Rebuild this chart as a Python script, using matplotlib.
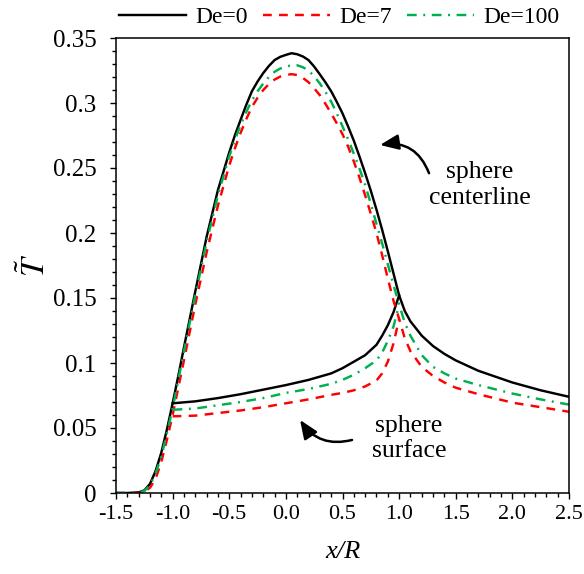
import matplotlib
matplotlib.use("Agg")
import matplotlib.pyplot as plt
from matplotlib.ticker import MultipleLocator, FuncFormatter
from matplotlib.patches import ArrowStyle

plt.rcParams['font.family'] = ['Liberation Serif', 'DejaVu Serif']
plt.rcParams['mathtext.fontset'] = 'stix'
plt.rcParams['axes.unicode_minus'] = False

# ---------------- data ----------------
labels = ["De=0", "De=7", "De=100"]
colors = ["#000000", "#FF0000", "#00B050"]

# centerline curves (x/R from -1.5 to 2.5)
x_c = [-1.5, -1.4, -1.3, -1.25, -1.2, -1.15, -1.1, -1.05, -1.0, -0.95, -0.9,
       -0.8, -0.7, -0.6, -0.5, -0.45, -0.4, -0.35, -0.3, -0.25, -0.2, -0.15, -0.1, -0.05,
       0.0, 0.05, 0.1, 0.15, 0.2, 0.25, 0.3, 0.35, 0.4, 0.45, 0.5, 0.55, 0.6, 0.65,
       0.7, 0.75, 0.8, 0.85, 0.9, 0.95, 1.0, 1.05, 1.1, 1.2, 1.3, 1.4,
       1.5, 1.7, 2.0, 2.25, 2.5]
T_c_de0 = [0.0, 0.0, 0.0005, 0.002, 0.007, 0.017, 0.031, 0.049, 0.069, 0.090, 0.112,
           0.155, 0.197, 0.233, 0.262, 0.2752, 0.287, 0.2985, 0.309, 0.3165, 0.323, 0.3285, 0.333, 0.3355,
           0.337, 0.3383, 0.3375, 0.3358, 0.333, 0.328, 0.322, 0.3158, 0.309, 0.3008, 0.292, 0.2818, 0.271, 0.2588,
           0.246, 0.2325, 0.218, 0.2025, 0.186, 0.169, 0.152, 0.140, 0.132, 0.121, 0.113, 0.107,
           0.102, 0.094, 0.085, 0.079, 0.074]
T_c_de7 = [0.0, 0.0, 0.0, 0.001, 0.004, 0.011, 0.024, 0.041, 0.060, 0.081, 0.102,
           0.145, 0.185, 0.221, 0.252, 0.2652, 0.277, 0.2875, 0.297, 0.304, 0.310, 0.3145, 0.318, 0.3203,
           0.3215, 0.3222, 0.3215, 0.3193, 0.316, 0.3113, 0.306, 0.2993, 0.292, 0.2843, 0.276, 0.2663, 0.255, 0.2425,
           0.229, 0.2148, 0.200, 0.183, 0.165, 0.148, 0.134, 0.119, 0.109, 0.097, 0.090, 0.085,
           0.081, 0.076, 0.0695, 0.066, 0.0625]
T_c_de100 = [0.0, 0.0, 0.0003, 0.0015, 0.006, 0.015, 0.028, 0.046, 0.065, 0.087, 0.109,
             0.152, 0.193, 0.229, 0.259, 0.2715, 0.283, 0.293, 0.302, 0.309, 0.315, 0.320, 0.324, 0.3265,
             0.328, 0.329, 0.329, 0.3275, 0.325, 0.3205, 0.315, 0.3085, 0.301, 0.292, 0.282, 0.272, 0.261, 0.2495,
             0.237, 0.2225, 0.207, 0.192, 0.176, 0.160, 0.145, 0.131, 0.121, 0.106, 0.097, 0.092,
             0.088, 0.083, 0.0765, 0.072, 0.068]

# sphere surface curves (x/R from -1 to 1)
x_s = [-1.0, -0.8, -0.6, -0.4, -0.2, 0.0, 0.2, 0.4, 0.5, 0.6, 0.7, 0.8, 0.85, 0.9, 0.95, 1.0]
T_s_de0 = [0.069, 0.0705, 0.073, 0.076, 0.0795, 0.083, 0.087, 0.092, 0.096, 0.101, 0.106,
           0.114, 0.121, 0.129, 0.139, 0.152]
T_s_de7 = [0.059, 0.0595, 0.0615, 0.0635, 0.066, 0.069, 0.072, 0.0755, 0.077, 0.079, 0.082,
           0.0865, 0.092, 0.101, 0.115, 0.134]
T_s_de100 = [0.064, 0.065, 0.0675, 0.070, 0.073, 0.077, 0.080, 0.084, 0.087, 0.091, 0.096,
             0.102, 0.108, 0.117, 0.128, 0.145]

x_ticks = [-1.5, -1.0, -0.5, 0.0, 0.5, 1.0, 1.5, 2.0, 2.5]
y_ticks = [0, 0.05, 0.1, 0.15, 0.2, 0.25, 0.3, 0.35]

# ---------------- figure ----------------
fig = plt.figure(figsize=(5.84, 5.74), dpi=100)
ax = fig.add_axes([116/584, 1-493/574, 453/584, 455/574])

styles = ['-', (0, (3.6, 3.0)), (0, (4.0, 2.7, 0.8, 2.7))]
centers = [T_c_de0, T_c_de7, T_c_de100]
surfaces = [T_s_de0, T_s_de7, T_s_de100]
lw = 1.75
handles = []
for lab, col, ls, tc, ts in zip(labels, colors, styles, centers, surfaces):
    h, = ax.plot(x_c, tc, color=col, linestyle=ls, lw=lw, label=lab)
    ax.plot(x_s, ts, color=col, linestyle=ls, lw=lw)
    handles.append(h)

ax.set_xlim(-1.5, 2.5)
ax.set_ylim(0, 0.35)
ax.set_xticks(x_ticks)
ax.set_yticks(y_ticks)
ax.xaxis.set_minor_locator(MultipleLocator(0.1))
ax.yaxis.set_minor_locator(MultipleLocator(0.01))
ax.xaxis.set_major_formatter(FuncFormatter(lambda v, p: "%.1f" % v))
ax.yaxis.set_major_formatter(FuncFormatter(lambda v, p: "%g" % round(v, 3)))
ax.tick_params(axis='both', which='major', direction='out', length=4.5, width=1,
               colors='black')
ax.tick_params(axis='both', which='minor', direction='out', length=2.7, width=1)
ax.tick_params(axis='x', which='major', pad=4, labelsize=16)
ax.tick_params(axis='y', which='major', pad=9.5, labelsize=18)
ax.tick_params(top=False, right=False, which='both')
for s in ax.spines.values():
    s.set_linewidth(1.1)
    s.set_color('black')

ax.set_xlabel("x/R", fontsize=19, fontstyle='italic')
ax.xaxis.set_label_coords(0.5, -0.105)
ax.set_ylabel(r"$\tilde{T}$", fontsize=24)
ax.yaxis.set_label_coords(-0.142, 0.5)

fig.legend(handles=handles, loc='center', bbox_to_anchor=(339/584, 1-17/574), ncol=3,
           frameon=False, fontsize=17, handlelength=2.85, handletextpad=0.38,
           columnspacing=0.64, borderaxespad=0)

ast = ArrowStyle('-|>', head_length=0.8, head_width=0.33)
ax.annotate("", xy=(0.831, 0.2677), xytext=(1.264, 0.246),
            arrowprops=dict(arrowstyle=ast, connectionstyle='arc3,rad=0.4', color='black',
                            lw=1.8, shrinkA=0, shrinkB=0, mutation_scale=14))
ax.annotate("", xy=(0.125, 0.0562), xytext=(0.584, 0.0408),
            arrowprops=dict(arrowstyle=ast, connectionstyle='arc3,rad=-0.35', color='black',
                            lw=1.8, shrinkA=0, shrinkB=0, mutation_scale=14))
ax.text(1.714, 0.237, "sphere\ncenterline", ha='center', va='center', fontsize=18.5,
        multialignment='center', linespacing=1.2)
ax.text(1.087, 0.042, "sphere\nsurface", ha='center', va='center', fontsize=18.5,
        multialignment='center', linespacing=1.2)

fig.savefig("out.png", dpi=100)
